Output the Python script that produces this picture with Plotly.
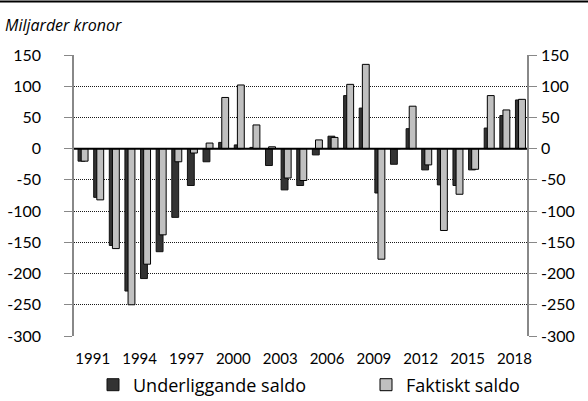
import plotly.graph_objects as go

years = list(range(1990, 2019))
underliggande = [-20, -78, -155, -228, -208, -165, -110, -59, -21, 10, 6, 2, -27, -66, -59,
                 -10, 20, 85, 65, -71, -25, 32, -34, -58, -59, -34, 33, 53, 78]
faktiskt = [-20, -82, -160, -250, -185, -138, -21, -7, 9, 82, 102, 38, 3, -47, -51,
            14, 18, 103, 135, -177, 0, 68, -26, -131, -73, -33, 85, 62, 79]
tick_years = list(range(1991, 2019, 3))
tick_labels = [str(y) for y in tick_years]
y_ticks = list(range(-300, 151, 50))
y_tick_labels = [str(v) for v in y_ticks]

FONT = "Lato, 'Open Sans', sans-serif"
FONT2 = "'Open Sans', sans-serif"
W, H = 588, 401
L, R, T, B = 74, 61, 55, 65
pw, ph = W - L - R, H - T - B

fig = go.Figure()
fig.add_trace(go.Bar(x=years, y=underliggande, name="Underliggande saldo",
                     width=0.44, offset=-0.24, yaxis="y", legend="legend",
                     marker=dict(color="#333333", line=dict(color="#111111", width=1))))
fig.add_trace(go.Bar(x=years, y=faktiskt, name="Faktiskt saldo",
                     width=0.44, offset=-0.04, yaxis="y2", legend="legend2",
                     marker=dict(color="#c0c0c0", line=dict(color="#000000", width=1))))

axis_common = dict(range=[-300, 150], tickvals=y_ticks, ticktext=y_tick_labels,
                   ticks="outside", ticklen=8,
                   tickcolor="#888888", showline=True, linecolor="#888888", linewidth=1.5,
                   zeroline=False, tickfont=dict(family=FONT, size=16, color="#000"))

legend_common = dict(orientation="h", xref="container", yref="container",
                     xanchor="left", y=1 - 385 / H, yanchor="middle",
                     bgcolor="rgba(0,0,0,0)",
                     font=dict(family=FONT2, size=18, color="#000"))

fig.update_layout(
    width=W, height=H,
    margin=dict(l=L, r=R, t=T, b=B, autoexpand=False),
    paper_bgcolor="white", plot_bgcolor="white",
    barmode="overlay",
    font=dict(family=FONT, color="#000"),
    xaxis=dict(range=[1989.5, 2018.5],
               tickvals=[y - 0.3 for y in tick_years], ticktext=tick_labels,
               showgrid=False, showline=False, zeroline=False, ticks="",
               ticklabelstandoff=12,
               tickfont=dict(family=FONT, size=15, color="#000")),
    yaxis=dict(showgrid=True, gridcolor="#1a1a1a", griddash="1px,1px", gridwidth=1,
               ticklabelstandoff=20, **axis_common),
    yaxis2=dict(overlaying="y", side="right", showgrid=False, ticklabelstandoff=1,
                **axis_common),
    legend=dict(x=93 / W, **legend_common),
    legend2=dict(x=366 / W, **legend_common),
    showlegend=True,
)

fig.add_shape(type="line", xref="paper", yref="y", x0=0, x1=1, y0=0, y1=0,
              line=dict(color="black", width=2), layer="above")
fig.add_shape(type="line", xref="paper", yref="paper",
              x0=-L / pw, x1=(W - L) / pw, y0=1 + (T - 1.5) / ph, y1=1 + (T - 1.5) / ph,
              line=dict(color="black", width=2))

fig.add_annotation(text="<i>Miljarder kronor</i>", xref="paper", yref="paper",
                   x=(3 - L) / pw, y=1 + (T - 25) / ph, xanchor="left", yanchor="middle",
                   showarrow=False, font=dict(family=FONT2, size=16, color="#000"))

fig.write_html("out.html", config={"displayModeBar": False},
               post_script="document.body.style.margin='0';document.body.style.overflow='hidden';")
